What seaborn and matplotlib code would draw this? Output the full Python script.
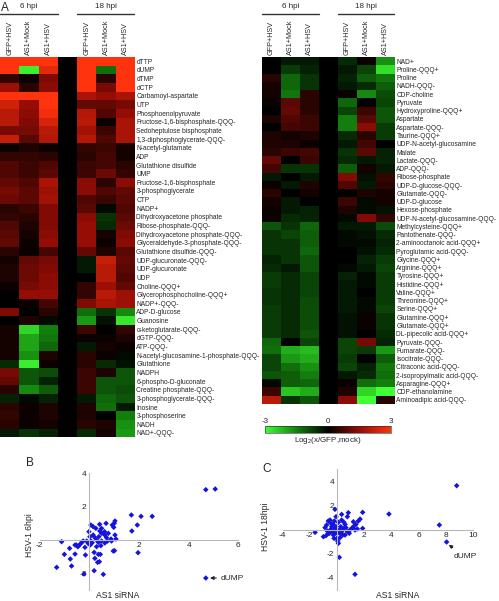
import numpy as np
import matplotlib
matplotlib.use("Agg")
import matplotlib.pyplot as plt
import matplotlib.transforms as mtransforms
from matplotlib.colors import LinearSegmentedColormap
import seaborn as sns

sns.set_style("white")
plt.rcParams["font.family"] = ["Liberation Sans", "DejaVu Sans"]
plt.rcParams["mathtext.default"] = "regular"

# ---- heatmap data (log2 ratio vs GFP,mock) ----
col_names = ["GFP+HSV", "AS1+Mock", "AS1+HSV"]

left_labels = [
    "dTTP", "dUMP", "dTMP", "dCTP", "Carbamoyl-aspartate", "UTP", "Phosphoenolpyruvate",
    "Fructose-1,6-bisphosphate-QQQ-", "Sedoheptulose bisphosphate", "1,3-diphosphoglycerate-QQQ-",
    "N-acetyl-glutamate", "ADP", "Glutathione disulfide", "UMP", "Fructose-1,6-bisphosphate",
    "3-phosphoglycerate", "CTP", "NADP+", "Dihydroxyacetone phosphate", "Ribose-phosphate-QQQ-",
    "Dihydroxyacetone phosphate-QQQ-", "Glyceraldehyde-3-phosphate-QQQ-", "Glutathione disulfide-QQQ-",
    "UDP-glucuronate-QQQ-", "UDP-glucuronate", "UDP", "Choline-QQQ+", "Glycerophosphocholine-QQQ+",
    "NADP+-QQQ-", "ADP-D-glucose", "Guanosine", "α-ketoglutarate-QQQ-", "dGTP-QQQ-", "ATP-QQQ-",
    "N-acetyl-glucosamine-1-phosphate-QQQ-", "Glutathione", "NADPH", "6-phospho-D-gluconate",
    "Creatine phosphate-QQQ-", "3-phosphoglycerate-QQQ-", "Inosine", "3-phosphoserine", "NADH",
    "NAD+-QQQ-",
]

left_6hpi = [
    [3.5, 3.5, 3.5], [3.5, -2.8, 2.6], [0.5, 0.1, 1.3], [1.6, 0.4, 1.4], [3.5, 3.5, 3.5],
    [2.3, 1.5, 3.0], [2.0, 1.4, 2.8], [2.0, 1.3, 2.4], [1.2, 1.2, 2.0], [2.2, 0.9, 1.9],
    [0.1, 0.3, 0.1], [0.5, 0.5, 0.4], [0.8, 0.6, 0.8], [0.8, 0.6, 0.9], [1.0, 0.8, 1.8],
    [1.2, 0.9, 1.6], [1.1, 0.9, 1.7], [0.4, 0.6, 1.3], [0.5, 0.4, 1.3], [0.8, 0.3, 1.3],
    [0.9, 0.2, 1.4], [1.0, 0.1, 1.5], [0.4, 0.1, 0.7], [0.2, 1.0, 1.2], [0.3, 1.1, 1.3],
    [0.3, 1.1, 1.4], [0.1, 1.2, 1.4], [0.0, 1.5, 1.5], [0.0, 0.1, 0.7], [1.3, 0.0, 0.4],
    [0.0, 0.3, -0.1], [0.2, -2.5, -1.5], [0.2, -1.9, -1.4], [0.2, -1.9, -1.2], [0.2, -1.7, 0.3],
    [-0.5, -2.8, 0.1], [1.2, -1.0, -0.9], [1.0, -1.0, -0.4], [0.4, -1.6, -1.1], [-0.4, -0.1, -0.4],
    [0.4, 0.1, 0.3], [0.5, 0.1, 0.3], [0.4, 0.1, 0.2], [-0.3, -0.6, -0.4],
]

left_18hpi = [
    [3.5, 3.5, 3.5], [3.5, -1.3, 3.5], [3.5, 0.4, 3.5], [3.5, 1.2, 3.5], [1.8, 1.5, 1.8],
    [1.0, 1.0, 1.2], [1.9, 0.8, 1.5], [2.0, 0.1, 1.8], [1.7, 0.6, 1.8], [1.9, 0.8, 1.8],
    [0.5, 0.6, 0.2], [0.4, 0.7, 0.2], [0.6, 0.7, 0.4], [0.6, 1.1, 0.5], [1.4, 0.4, 1.4],
    [1.4, 0.8, 1.0], [0.8, 0.6, 0.9], [0.9, -0.1, 0.8], [1.4, -0.6, 0.9], [1.5, -0.5, 1.1],
    [1.5, 0.2, 1.3], [1.5, 0.1, 1.4], [1.0, 0.3, 0.9], [-0.3, 2.2, 1.0], [-0.3, 2.0, 0.9],
    [0.0, 2.0, 0.8], [0.5, 1.6, 1.0], [0.5, 2.0, 1.6], [1.3, 1.8, 1.6], [-1.3, -0.6, -1.6],
    [-1.8, -0.2, -2.7], [0.6, 0.0, 0.5], [0.1, 0.1, 0.3], [-0.3, 0.2, 0.1], [0.4, 0.1, -0.1],
    [0.4, -0.5, -0.2], [0.6, 0.3, -1.0], [0.6, -1.0, -1.0], [0.6, -1.0, -0.9], [-0.3, -1.2, -1.0],
    [0.3, -1.3, -0.3], [0.3, 0.0, -1.5], [0.4, 0.3, -1.7], [-0.5, 0.2, -1.8],
]

right_labels = [
    "NAD+", "Proline-QQQ+", "Proline", "NADH-QQQ-", "CDP-choline", "Pyruvate", "Hydroxyproline-QQQ+",
    "Aspartate", "Aspartate-QQQ-", "Taurine-QQQ+", "UDP-N-acetyl-glucosamine", "Malate", "Lactate-QQQ-",
    "ADP-QQQ-", "Ribose-phosphate", "UDP-D-glucose-QQQ-", "Glutamate-QQQ-", "UDP-D-glucose",
    "Hexose-phosphate", "UDP-N-acetyl-glucosamine-QQQ-", "Methylcysteine-QQQ+", "Pantothenate-QQQ-",
    "2-aminooctanoic acid-QQQ+", "Pyroglutamic acid-QQQ-", "Glycine-QQQ+", "Arginine-QQQ+",
    "Tyrosine-QQQ+", "Histidine-QQQ+", "Valine-QQQ+", "Threonine-QQQ+", "Serine-QQQ+", "Glutamine-QQQ+",
    "Glutamate-QQQ+", "DL-pipecolic acid-QQQ+", "Pyruvate-QQQ-", "Fumarate-QQQ-", "Isocitrate-QQQ-",
    "Citraconic acid-QQQ-", "2-isopropylmalic acid-QQQ-", "Asparagine-QQQ+", "CDP-ethanolamine",
    "Aminoadipic acid-QQQ-",
]

right_6hpi = [
    [0.0, -0.3, -0.3], [0.0, -0.7, -0.4], [0.4, -1.2, -0.6], [0.2, -1.2, -0.6], [0.2, -1.4, 0.4],
    [0.1, 0.9, 0.4], [0.0, 1.0, 0.4], [0.3, 0.8, 0.6], [0.0, 0.7, 0.6], [0.3, 0.2, 0.3],
    [0.3, 0.3, 0.1], [0.4, 0.6, 0.7], [1.0, 0.0, 0.6], [0.7, -0.6, -0.6], [-0.3, 0.0, -0.3],
    [0.1, -0.3, 0.3], [0.4, 0.0, 0.2], [0.2, -0.3, 0.0], [0.1, -0.3, -0.4], [0.1, -0.5, -0.4],
    [-1.0, -0.6, -1.2], [-0.6, -0.8, -1.1], [-0.6, -0.6, -1.1], [-0.6, -0.6, -1.2], [-0.4, -0.6, -1.0],
    [-0.5, -0.3, -1.0], [-0.7, -0.5, -0.8], [-0.7, -0.5, -0.8], [-0.6, -0.5, -0.8], [-0.6, -0.5, -0.9],
    [-0.7, -0.5, -0.9], [-0.7, -0.5, -0.9], [-0.7, -0.5, -0.9], [-0.7, -0.5, -1.0], [-1.2, 0.0, -0.8],
    [-1.3, -2.0, -2.2], [-0.8, -1.8, -2.0], [-0.8, -1.3, -1.7], [-1.0, -1.1, -1.5], [-0.1, -1.1, -1.2],
    [0.6, -2.3, -2.0], [2.0, -0.6, -1.0],
]

right_18hpi = [
    [-0.5, 0.1, -1.7], [-0.3, -0.8, -2.6], [-0.4, -1.1, -1.4], [-0.3, -0.5, -1.1], [0.1, -1.6, -0.9],
    [-1.2, 0.0, -0.8], [-0.8, 0.6, -1.0], [-1.5, 0.9, -1.0], [-1.5, 1.4, -0.7], [-0.5, 0.4, -0.7],
    [-0.3, 0.7, 0.0], [-0.6, 0.9, -0.4], [-0.5, -0.3, -0.4], [-1.1, 0.2, -0.3], [1.3, -0.2, 0.5],
    [0.8, -0.3, 0.4], [0.0, 0.3, 0.2], [0.6, -0.1, 0.2], [0.3, -0.1, -0.2], [-0.1, 1.3, 0.5],
    [-0.3, -0.3, -0.9], [-0.1, -0.2, -0.5], [-0.1, -0.1, -0.4], [0.0, -0.2, -0.5], [0.0, -0.4, -0.7],
    [-0.1, -0.3, -0.8], [-0.4, -0.1, -0.7], [-0.3, -0.1, -0.7], [-0.3, 0.0, -0.7], [-0.3, -0.1, -0.7],
    [-0.3, -0.1, -0.8], [-0.2, 0.1, -0.6], [-0.2, 0.1, -0.6], [-0.2, 0.0, -0.5], [-0.8, 1.2, -0.4],
    [-0.8, -0.7, -1.8], [-0.7, 0.0, -1.1], [-0.8, -0.4, -1.4], [-0.3, -0.5, -1.3], [0.1, -1.3, -1.5],
    [0.3, -2.5, -3.0], [1.4, -3.0, 0.4],
]

# ---- scatter data ----
b_x = [4.69, 5.07, 1.69, 2.08, 2.53, 1.93, 1.71, 1.96, 4.69,
       -1.12, -0.80, -1.01, -0.77, -1.32, -0.72, -0.58, -0.53, -0.45, -0.38, -0.31, -0.25, -0.18,
       -0.16, -0.22, -0.02, 0.06, 0.15, 0.26, 0.06, 0.11, 0.03, 0.15, 0.22, 0.29, 0.19, 0.29, 0.22,
       0.33, 0.19, 0.41, 0.42, 0.38, 0.49, 0.44, 0.36, 0.56, 0.46, 0.40, 0.67, 0.61, 0.62, 0.69,
       0.76, 0.73, 0.87, 0.92, 0.98, 1.03, 1.00, 1.03, 1.07, 0.96, 1.01, 0.89, 0.49, 0.02, -0.05,
       -0.11, -0.58, -0.47, 0.49, 0.62, 0.36]
b_y = [3.00, 3.04, 1.48, 1.40, 1.40, 0.88, 0.52, -0.78, -2.30,
       -0.12, -0.52, -0.88, -1.16, -1.66, -1.58, -0.86, -0.32, -0.38, -0.28, -0.16, -0.08, -0.46,
       -0.92, -2.06, 0.48, 0.88, 0.78, 0.68, -0.08, -0.18, -0.32, 0.28, 0.12, -0.02, -0.76, -0.42,
       -1.12, -1.36, -1.86, 0.92, 0.52, 0.18, 0.38, -0.88, -0.88, -2.08, -0.36, -1.32, 0.98, 0.48,
       0.28, 0.12, 0.38, -0.08, 0.04, 0.88, 0.74, 1.12, 0.98, 0.28, 0.04, -0.68, -0.66, -0.08, 0.68,
       0.18, -0.22, -0.08, -0.32, -0.42, -0.08, -0.20, -0.16]

c_x = [8.78, 7.51, 8.04, 3.81, 1.88, 1.88, -1.61, 0.17, 1.32, -0.15, -0.07, 0.83, 0.76, 0.34,
       1.56, 1.69, 1.39, 1.20, 0.95, 1.08, 0.59, 0.51, 0.34, 0.10, -0.51, -0.64, -0.76, -0.88,
       -1.00, -0.81, -0.64, -0.51, -0.39, -0.32, -0.27, -0.22, -0.15, -0.07, -0.02, 0.02, 0.10,
       0.05, -0.02, 0.17, 0.27, 0.34, 0.42, 0.51, 0.66, 0.76, 0.90, 0.59, 0.22, -0.27, -0.44,
       -0.20, 1.20, 1.32, 1.49, -0.39, -0.56, -0.15, 0.22, 0.29, -0.71]
c_y = [3.65, 0.39, -1.02, 1.30, 1.44, 0.11, -0.22, -2.29, -3.70, 1.69, 1.08, 1.41, 1.08, 1.27,
       0.72, 0.88, 0.44, 0.25, -0.03, 0.11, 0.44, 0.61, 0.80, 0.61, 0.80, 0.72, 0.39, 0.17,
       -0.58, -0.50, -0.30, -0.03, 0.25, -0.17, -0.44, -0.72, 0.11, 0.25, -0.03, -0.30, -1.13,
       -0.94, -0.72, -0.03, 0.25, -0.17, -0.44, 0.11, 0.17, -0.17, -0.30, -0.44, -0.66, 0.44, 0.52,
       0.72, 0.66, -0.03, 0.06, -0.03, -0.30, -0.30, -0.30, 0.06, -0.11]

W, H = 499, 601
fig = plt.figure(figsize=(W / 100, H / 100), dpi=100)


def px(x0, y0, x1, y1):
    # pixel box (top-left origin) -> figure rect
    return [x0 / W, 1 - y1 / H, (x1 - x0) / W, (y1 - y0) / H]


# green - black - red, red side a bit darker in the middle
cmap = LinearSegmentedColormap.from_list(
    "gkr", [(0.0, (0.25, 1.0, 0.2)), (0.25, (0.07, 0.5, 0.05)), (0.5, (0, 0, 0)),
            (0.75, (0.58, 0.05, 0.02)), (1.0, (1.0, 0.2, 0.05))])


def draw_heat(rect, v6, v18, labels):
    ax = fig.add_axes(rect)
    gap = np.full((len(labels), 1), np.nan)
    mat = np.hstack([np.array(v6), gap, np.array(v18)])
    sns.heatmap(mat, ax=ax, cmap=cmap, vmin=-3, vmax=3, cbar=False,
                xticklabels=col_names + [""] + col_names, yticklabels=labels)
    ax.set_facecolor("black")
    ax.xaxis.tick_top()
    ax.yaxis.tick_right()
    ax.tick_params(axis="x", length=0, pad=1.5, labelsize=5.2, labelrotation=90)
    ax.tick_params(axis="y", length=0, pad=1, labelsize=4.8, labelrotation=0)
    tr = mtransforms.blended_transform_factory(ax.transData, fig.transFigure)
    for x0, x1, name in [(0.0, 3.0, "6 hpi"), (4.0, 6.95, "18 hpi")]:
        ax.plot([x0, x1], [1 - 14 / H] * 2, transform=tr, color="#333333", lw=1, clip_on=False)
        ax.text((x0 + x1) / 2, 1 - 7 / H, name, transform=tr, ha="center", va="center", fontsize=5.8)
    return ax


axl = draw_heat(px(0, 57, 135, 437.3), left_6hpi, left_18hpi, left_labels)
axr = draw_heat(px(262, 57, 395, 404), right_6hpi, right_18hpi, right_labels)

# colour bar
cax = fig.add_axes(px(265, 426, 391, 433))
cb = fig.colorbar(axl.collections[0], cax=cax, orientation="horizontal", ticks=[-3, 0, 3])
cb.ax.xaxis.set_ticks_position("top")
cb.ax.tick_params(length=0, pad=1, labelsize=5.8)
cb.ax.set_xticklabels(["-3", "0", "3"])
cb.outline.set_linewidth(0.4)
fig.text(328 / W, 1 - 441 / H, "Log$_2$(x/GFP,mock)", ha="center", va="center", fontsize=5.8)


def draw_scatter(rect, xs, ys, xlim, ylim, xticks, yticks):
    ax = fig.add_axes(rect)
    ax.patch.set_alpha(0)
    sns.scatterplot(x=xs, y=ys, ax=ax, marker="D", s=8, color="#1414e0", edgecolor="none")
    ax.set_xlim(xlim)
    ax.set_ylim(ylim)
    for s in ["top", "right"]:
        ax.spines[s].set_visible(False)
    for s in ["left", "bottom"]:
        ax.spines[s].set_position("zero")
        ax.spines[s].set_color("#b8b8b8")
        ax.spines[s].set_linewidth(0.8)
    ax.set_xticks(xticks)
    ax.set_xticklabels([str(t) if t != 0 else "" for t in xticks])
    ax.set_yticks(yticks)
    ax.set_yticklabels([str(t) if t != 0 else "" for t in yticks])
    ax.tick_params(length=0, labelsize=6, pad=2)
    return ax


axb = draw_scatter(px(39.8, 473, 238.3, 589.7), b_x, b_y, (-2, 6), (-3, 4),
                   [-2, 0, 2, 4, 6], [-2, 0, 2, 4])
axb.annotate("dUMP", xy=(4.86, -2.3), xytext=(5.3, -2.3), fontsize=6, va="center", ha="left",
             arrowprops=dict(arrowstyle="-|>", color="#222222", lw=0.8, mutation_scale=5,
                             shrinkA=1, shrinkB=0))

axc = draw_scatter(px(282.5, 469.4, 473.3, 590), c_x, c_y, (-4, 10), (-5, 5),
                   [-4, -2, 0, 2, 4, 6, 8, 10], [-4, -2, 0, 2, 4])
axc.annotate("dUMP", xy=(8.2, -1.25), xytext=(9.4, -2.25), fontsize=6, va="center", ha="center",
             arrowprops=dict(arrowstyle="-|>", color="#222222", lw=0.8, mutation_scale=5,
                             shrinkA=3, shrinkB=0))

# axis titles and panel letters
fig.text(30 / W, 1 - 535 / H, "HSV-1 6hpi", rotation=90, ha="center", va="center", fontsize=6.2)
fig.text(118 / W, 1 - 595 / H, "AS1 siRNA", ha="center", va="center", fontsize=6.2)
fig.text(266 / W, 1 - 527 / H, "HSV-1 18hpi", rotation=90, ha="center", va="center", fontsize=6.2)
fig.text(398 / W, 1 - 596 / H, "AS1 siRNA", ha="center", va="center", fontsize=6.2)
fig.text(5 / W, 1 - 8 / H, "A", ha="center", va="center", fontsize=8.5)
fig.text(30 / W, 1 - 463 / H, "B", ha="center", va="center", fontsize=8.5)
fig.text(267 / W, 1 - 469 / H, "C", ha="center", va="center", fontsize=8.5)

fig.savefig("out.png", dpi=100)
